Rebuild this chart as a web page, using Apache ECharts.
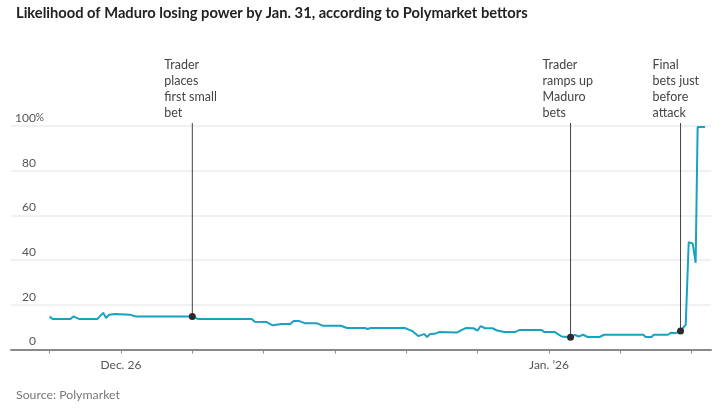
<!DOCTYPE html>
<html>
<head>
<meta charset="utf-8">
<script src="https://cdn.jsdelivr.net/npm/echarts@6/dist/echarts.min.js"></script>
<style>
  html, body { margin: 0; padding: 0; background: #fff; }
  #chart { width: 726px; height: 409px; }
</style>
</head>
<body>
<div id="chart"></div>
<script>
// odds of Maduro losing power
var times = [
    '2025-12-25 00:00', '2025-12-25 01:00', '2025-12-25 07:00', '2025-12-25 08:00', '2025-12-25 10:00',
    '2025-12-25 16:00', '2025-12-25 18:00', '2025-12-25 19:00', '2025-12-25 20:00', '2025-12-25 22:00',
    '2025-12-26 03:00', '2025-12-26 05:00', '2025-12-27 00:00', '2025-12-27 02:00', '2025-12-27 20:00',
    '2025-12-27 21:00', '2025-12-28 01:00', '2025-12-28 03:00', '2025-12-28 06:00', '2025-12-28 09:00',
    '2025-12-28 10:00', '2025-12-28 12:00', '2025-12-28 14:00', '2025-12-28 18:00', '2025-12-28 20:00',
    '2025-12-29 02:00', '2025-12-29 04:00', '2025-12-29 10:00', '2025-12-29 11:00', '2025-12-29 12:00',
    '2025-12-29 23:30', '2025-12-30 01:00', '2025-12-30 02:00', '2025-12-30 04:00', '2025-12-30 06:00',
    '2025-12-30 07:00', '2025-12-30 08:00', '2025-12-30 09:30', '2025-12-30 11:00', '2025-12-30 17:00',
    '2025-12-30 18:30', '2025-12-30 20:00', '2025-12-30 22:30', '2025-12-31 00:00', '2025-12-31 01:00',
    '2025-12-31 02:30', '2025-12-31 05:00', '2025-12-31 06:30', '2025-12-31 09:00', '2025-12-31 12:30',
    '2025-12-31 14:00', '2025-12-31 21:30', '2025-12-31 22:30', '2026-01-01 02:00', '2026-01-01 04:15',
    '2026-01-01 07:15', '2026-01-01 08:45', '2026-01-01 10:00', '2026-01-01 11:30', '2026-01-01 13:00',
    '2026-01-01 17:00', '2026-01-01 18:30', '2026-01-02 07:45', '2026-01-02 08:30', '2026-01-02 10:30',
    '2026-01-02 11:15', '2026-01-02 16:00', '2026-01-02 17:00', '2026-01-02 18:30', '2026-01-02 20:15',
    '2026-01-02 22:00', '2026-01-02 23:00', '2026-01-02 23:30', '2026-01-03 00:20', '2026-01-03 01:20',
    '2026-01-03 02:00', '2026-01-03 04:30'
]
var values = [
    14.7, 13.6, 13.6, 14.8, 13.6,
    13.6, 16.4, 14.1, 15.6, 15.9,
    15.6, 14.8, 14.8, 13.6, 13.6,
    12.4, 12.3, 10.8, 11.4, 11.4,
    12.7, 12.7, 11.7, 11.7, 10.6,
    10.6, 9.6, 9.6, 9.2, 9.6,
    9.6, 8.8, 8.3, 6.0, 6.9,
    5.6, 6.9, 7.0, 7.8, 7.6,
    8.7, 9.6, 9.5, 8.5, 10.5,
    9.5, 9.5, 8.5, 7.8, 7.8,
    8.7, 8.7, 7.8, 7.8, 5.8,
    5.5, 6.5, 5.8, 6.6, 5.6,
    5.6, 6.6, 6.6, 5.6, 5.6,
    6.6, 6.6, 7.5, 7.3, 8.3,
    11.1, 48.0, 48.5, 47.5, 38.8,
    99.5, 99.5
]

// annotated trades
var noteTimes = ['2025-12-27 00:00', '2026-01-01 07:15', '2026-01-02 20:15']
var noteValues = [14.8, 5.5, 8.3]
var noteTexts = [
    'Trader\nplaces\nfirst small\nbet',
    'Trader\nramps up\nMaduro\nbets',
    'Final\nbets just\nbefore\nattack'
]

var yTicks = [0, 20, 40, 60, 80, 100]
var xMin = '2025-12-24 11:00'
var xMax = '2026-01-03 06:30'

var font = 'Lato'

var lineData = []
for (var i = 0; i < times.length; i++) {
    lineData.push([times[i], values[i]])
}

var noteData = []
for (var i = 0; i < noteTimes.length; i++) {
    noteData.push([noteTimes[i], noteValues[i]])
}

// stem + dot + text for each annotation
function renderNote(params, api) {
    var p = api.coord([api.value(0), api.value(1)])
    var top = api.coord([api.value(0), yTicks[yTicks.length - 1]])[1] - 3
    return {
        type: 'group',
        children: [{
            type: 'line',
            shape: { x1: p[0], y1: p[1], x2: p[0], y2: top },
            style: { stroke: '#444', lineWidth: 1 }
        }, {
            type: 'circle',
            shape: { cx: p[0], cy: p[1], r: 3.5 },
            style: { fill: '#2b2b2b' }
        }, {
            type: 'text',
            style: {
                text: noteTexts[params.dataIndex],
                x: p[0] - 28,
                y: top - 2,
                align: 'left',
                verticalAlign: 'bottom',
                lineHeight: 16,
                fontFamily: font,
                fontSize: 12.5,
                fill: '#444'
            }
        }]
    }
}

var chart = echarts.init(document.getElementById('chart'), null, { renderer: 'canvas' })

var option = {
    animation: false,
    title: [{
        text: 'Likelihood of Maduro losing power by Jan. 31, according to Polymarket bettors',
        left: 11,
        top: 1,
        textStyle: { fontFamily: font, fontWeight: 'bold', fontSize: 14.7, color: '#222' }
    }, {
        text: 'Source: Polymarket',
        left: 11,
        top: 384,
        textStyle: { fontFamily: font, fontWeight: 'normal', fontSize: 12.3, color: '#777' }
    }],
    grid: {
        left: 11,
        right: 15,
        top: 126,
        bottom: 59.5
    },
    xAxis: {
        type: 'time',
        min: xMin,
        max: xMax,
        minInterval: 86400000,
        maxInterval: 86400000,
        axisLine: { lineStyle: { color: '#8a8a8a', width: 2 } },
        axisTick: { show: true, length: 4, lineStyle: { color: '#8a8a8a', width: 1 } },
        splitLine: { show: false },
        axisLabel: {
            margin: 10,
            fontFamily: font,
            fontSize: 12,
            color: '#555',
            showMinLabel: false,
            showMaxLabel: false,
            formatter: function(v) {
                var d = new Date(v)
                if (d.getMonth() == 11 && d.getDate() == 26) return 'Dec. 26'
                if (d.getMonth() == 0 && d.getDate() == 1) return "Jan. \u201926"
                return ''
            }
        }
    },
    yAxis: {
        type: 'value',
        min: 0,
        max: 100,
        interval: 20,
        axisLine: { show: false },
        axisTick: { show: false },
        splitLine: { lineStyle: { color: '#ececec', width: 1.5 } },
        axisLabel: {
            inside: true,
            align: 'right',
            verticalAlign: 'bottom',
            margin: 33,
            padding: [0, 0, 2, 0],
            fontFamily: font,
            fontSize: 12,
            color: '#555',
            formatter: function(v) {
                if (v == yTicks[yTicks.length - 1]) return v + '{p|%}'
                return v + '{h|%}'
            },
            rich: {
                p: { fontFamily: font, fontSize: 10.5, color: '#555', width: 8 },
                h: { fontFamily: font, fontSize: 10.5, color: 'rgba(0,0,0,0)', width: 8 }
            }
        }
    },
    series: [{
        name: 'odds',
        type: 'line',
        data: lineData,
        showSymbol: false,
        smooth: false,
        lineStyle: { color: '#17a2c2', width: 2 },
        z: 3
    }, {
        name: 'notes',
        type: 'custom',
        data: noteData,
        encode: { x: 0, y: 1 },
        renderItem: renderNote,
        clip: false,
        silent: true,
        z: 5
    }]
}

chart.setOption(option)
</script>
</body>
</html>
